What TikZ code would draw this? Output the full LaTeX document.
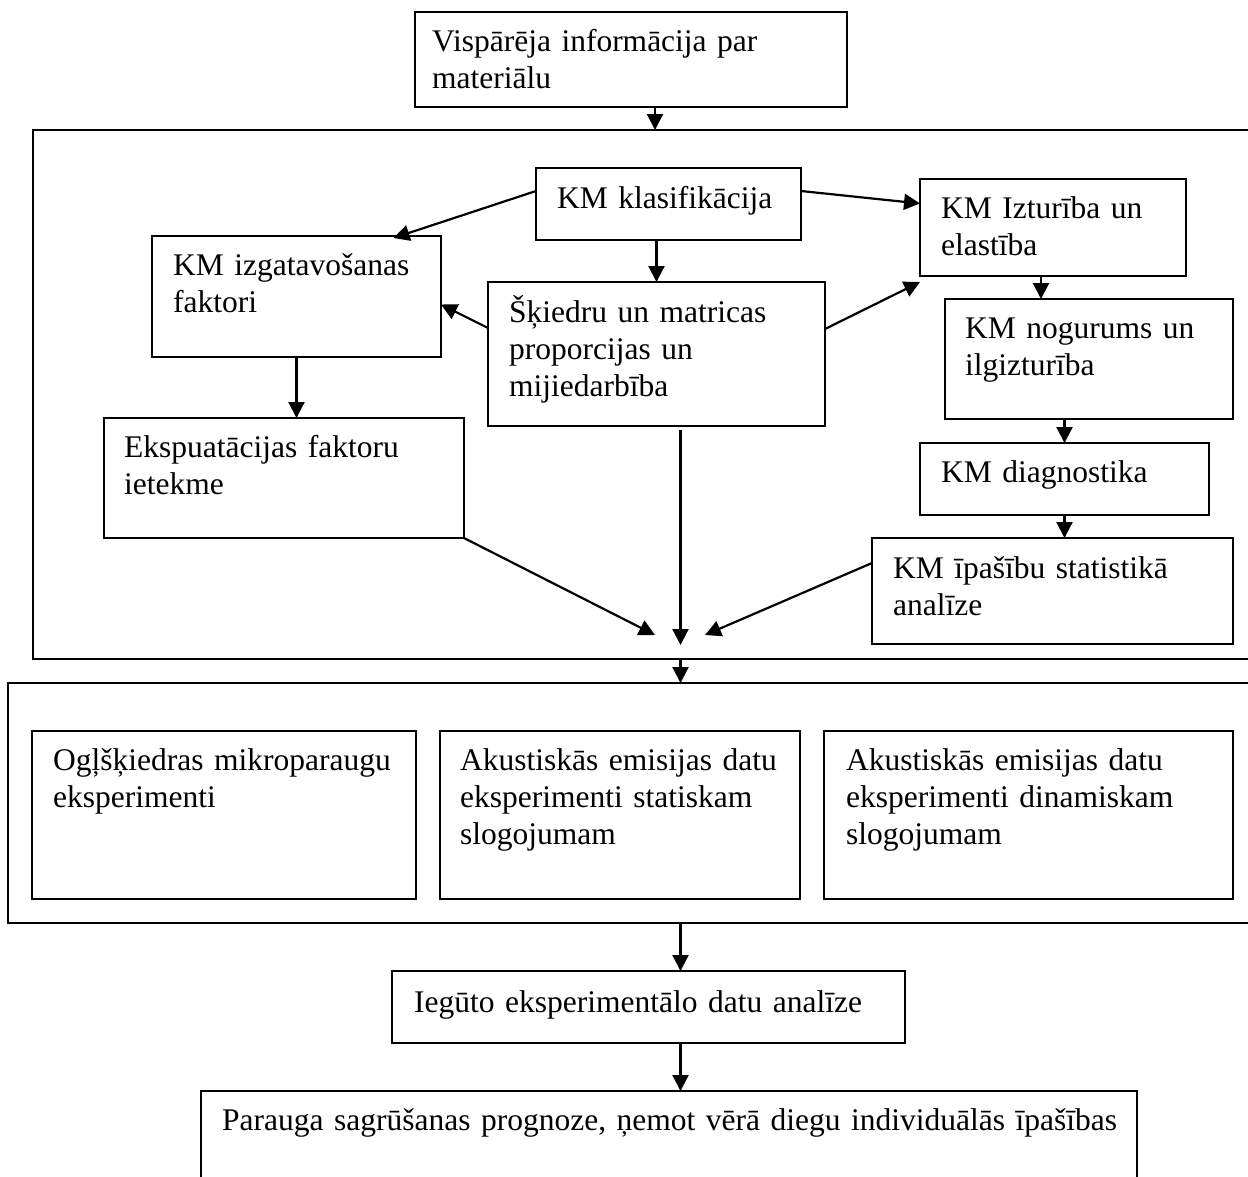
\documentclass[tikz,border=0pt]{standalone}
\usepackage{fontspec}
\setmainfont{Liberation Serif}
\usetikzlibrary{arrows.meta,calc}
\newcommand\mkbox[5]{\node[box, minimum width=#4pt, minimum height=#5pt] (#1) at (#2,#3) {};}
\begin{document}
\begin{tikzpicture}[x=1pt,y=-1pt,
  box/.style={draw, line width=2.4pt, inner sep=0pt, outer sep=0pt, anchor=north west},
  txt/.style={font=\fontsize{31.5}{37}\selectfont, inner sep=0pt, anchor=base west, align=left, text width=960pt},
  arr/.style={line width=2.2pt, -{Triangle[length=16pt,width=16pt]}}]
\useasboundingbox (0,0) rectangle (1248,1176);
% boxes
\mkbox{topbox}{415}{12}{432}{95}
\mkbox{frameA}{33}{130}{1240}{529}
\mkbox{klas}{536}{168}{265}{72}
\mkbox{izg}{152}{236}{289}{121}
\mkbox{izt}{920}{179}{266}{97}
\mkbox{skq}{488}{282}{337}{144}
\mkbox{nog}{945}{299}{288}{120}
\mkbox{eksp}{104}{418}{360}{120}
\mkbox{diag}{920}{443}{289}{72}
\mkbox{stat}{872}{538}{361}{106}
\mkbox{frameB}{8}{683}{1265}{240}
\mkbox{exa}{32}{731}{384}{168}
\mkbox{exb}{440}{731}{360}{168}
\mkbox{exc}{824}{731}{409}{168}
\mkbox{ieg}{392}{971}{513}{72}
\mkbox{prog}{201}{1091}{936}{120}
% texts
\node[txt] (topbox-t) at (432,51) {Vispārēja informācija par\\materiālu};
\node[txt] (klas-t) at (557,208) {KM klasifikācija};
\node[txt] (izg-t) at (173,275) {KM izgatavošanas\\faktori};
\node[txt] (izt-t) at (941,218) {KM Izturība un\\elastība};
\node[txt] (skq-t) at (509,322) {Šķiedru un matricas\\proporcijas un\\mijiedarbība};
\node[txt] (nog-t) at (965,338) {KM nogurums un\\ilgizturība};
\node[txt] (eksp-t) at (124,457) {Ekspuatācijas faktoru\\ietekme};
\node[txt] (diag-t) at (941,482) {KM diagnostika};
\node[txt] (stat-t) at (893,578) {KM īpašību statistikā\\analīze};
\node[txt] (exa-t) at (53,770) {Ogļšķiedras mikroparaugu\\eksperimenti};
\node[txt] (exb-t) at (460,770) {Akustiskās emisijas datu\\eksperimenti statiskam\\slogojumam};
\node[txt] (exc-t) at (846,770) {Akustiskās emisijas datu\\eksperimenti dinamiskam\\slogojumam};
\node[txt] (ieg-t) at (414,1012) {Iegūto eksperimentālo datu analīze};
\node[txt] (prog-t) at (222,1130) {Parauga sagrūšanas prognoze, ņemot vērā diegu individuālās īpašības};
% helper coordinates
\coordinate (t1) at ($(topbox.south)+(24,0)$);
\coordinate (t8) at ($(izt.south)+(-12,0)$);
\coordinate (sC) at ($(skq.south)+(24,4)$);
\coordinate (mL) at (655,635);
\coordinate (mC) at (680.5,645);
\coordinate (mR) at (705,635);
% connectors
\draw[arr] (t1) -- (t1 |- frameA.north);
\draw[arr] ($(klas.west)+(0,-13)$) -- ($(izg.north)+(97,2)$);
\draw[arr] ($(klas.east)+(0,-13)$) -- ($(izt.west)+(0,-24)$);
\draw[arr] (klas.south -| skq.north) -- (skq.north);
\draw[arr] ($(skq.west)+(0,-26)$) -- ($(izg.east)+(0,8)$);
\draw[arr] ($(skq.east)+(0,-25)$) -- ($(izt.south west)+(0,6)$);
\draw[arr] (izg.south) -- (izg.south |- eksp.north);
\draw[arr] (t8) -- (t8 |- nog.north);
\draw[arr] (nog.south -| diag.north) -- (diag.north);
\draw[arr] (diag.south) -- (diag.south |- stat.north);
\draw[arr] (eksp.south east) -- (mL);
\draw[arr] (sC) -- (mC);
\draw[arr] ($(stat.west)+(0,-28)$) -- (mR);
\draw[arr] (sC |- frameA.south) -- (sC |- frameB.north);
\draw[arr] (sC |- frameB.south) -- (sC |- ieg.north);
\draw[arr] (sC |- ieg.south) -- (sC |- prog.north);
\end{tikzpicture}
\end{document}
